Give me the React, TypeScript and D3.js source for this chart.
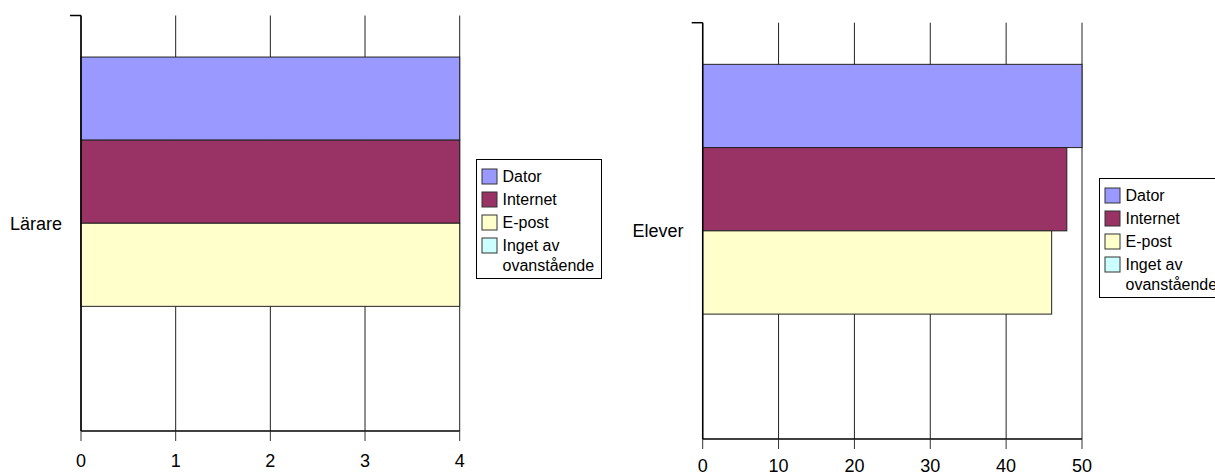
import React from "react";
import * as d3 from "d3";

const series = ["Dator", "Internet", "E-post", "Inget av ovanstående"];
const seriesLines = [["Dator"], ["Internet"], ["E-post"], ["Inget av", "ovanstående"]];
const colors = ["#9999FF", "#993366", "#FFFFCC", "#CCFFFF"];
const lararValues = [4, 4, 4, 0];
const eleverValues = [50, 48, 46, 0];
const lararTicks = [0, 1, 2, 3, 4];
const eleverTicks = [0, 10, 20, 30, 40, 50];

const FONT = "Arial, 'Liberation Sans', sans-serif";

type PanelProps = {
  category: string;
  values: number[];
  ticks: number[];
  x0: number;
  x1: number;
  top: number;
  bottom: number;
  labelX: number;
  legendX: number;
  legendY: number;
  tickLabelOffset: number;
};

function Panel({ category, values, ticks, x0, x1, top, bottom, labelX, legendX, legendY, tickLabelOffset }: PanelProps) {
  const x = d3.scaleLinear().domain([ticks[0], ticks[ticks.length - 1]]).range([x0, x1]);
  const y = d3.scaleBand<string>().domain(series).range([top, bottom]).paddingOuter(0.5).paddingInner(0);
  const rowOffsets = [17, 40, 63, 86];
  return (
    <g>
      {ticks.map((t) => (
        <line key={"g" + t} x1={x(t)} x2={x(t)} y1={top} y2={bottom} stroke="#222" strokeWidth={1} />
      ))}
      {series.map((s, i) => {
        const w = x(values[i]) - x(0);
        if (w <= 0) return null;
        return (
          <rect key={s} x={x(0)} y={y(s)} width={w} height={y.bandwidth()} fill={colors[i]} stroke="#222" strokeWidth={1} />
        );
      })}
      <line x1={x0} x2={x0} y1={top} y2={bottom} stroke="#000" strokeWidth={1.5} />
      <line x1={x0 - 11} x2={x0} y1={top} y2={top} stroke="#000" strokeWidth={1.5} />
      <line x1={x0} x2={x1} y1={bottom} y2={bottom} stroke="#000" strokeWidth={1.5} />
      {ticks.map((t) => (
        <g key={"t" + t}>
          <line x1={x(t)} x2={x(t)} y1={bottom} y2={bottom + 10} stroke="#333" strokeWidth={1} />
          <text x={x(t)} y={bottom + tickLabelOffset} textAnchor="middle" fontSize={18} fontFamily={FONT} fill="#000">
            {t}
          </text>
        </g>
      ))}
      <text x={labelX} y={(top + bottom) / 2} dy="0.35em" textAnchor="middle" fontSize={18} fontFamily={FONT} fill="#000">
        {category}
      </text>
      <g transform={`translate(${legendX},${legendY})`}>
        <rect x={0} y={0} width={125} height={119} fill="#fff" stroke="#000" strokeWidth={1} />
        {series.map((s, i) => (
          <g key={"l" + s}>
            <rect x={5.5} y={rowOffsets[i] - 7.5} width={15} height={15} fill={colors[i]} stroke="#333" strokeWidth={1} />
            {seriesLines[i].map((ln, j) => (
              <text key={ln} x={26} y={rowOffsets[i] + j * 20} dy="0.35em" fontSize={16} fontFamily={FONT} fill="#000">
                {ln}
              </text>
            ))}
          </g>
        ))}
      </g>
    </g>
  );
}

export default function App() {
  return (
    <svg
      width={1215}
      height={476}
      style={{ position: "absolute", left: 0, top: 0, display: "block", overflow: "hidden", background: "#fff" }}
    >
      <rect x={0} y={0} width={1215} height={476} fill="#fff" />
      <Panel
        category="Lärare"
        values={lararValues}
        ticks={lararTicks}
        x0={81}
        x1={459.7}
        top={15.5}
        bottom={431}
        labelX={36}
        legendX={476.5}
        legendY={159.5}
        tickLabelOffset={36}
      />
      <Panel
        category="Elever"
        values={eleverValues}
        ticks={eleverTicks}
        x0={702.7}
        x1={1082}
        top={22.7}
        bottom={439}
        labelX={658}
        legendX={1099.5}
        legendY={178.5}
        tickLabelOffset={33}
      />
    </svg>
  );
}
